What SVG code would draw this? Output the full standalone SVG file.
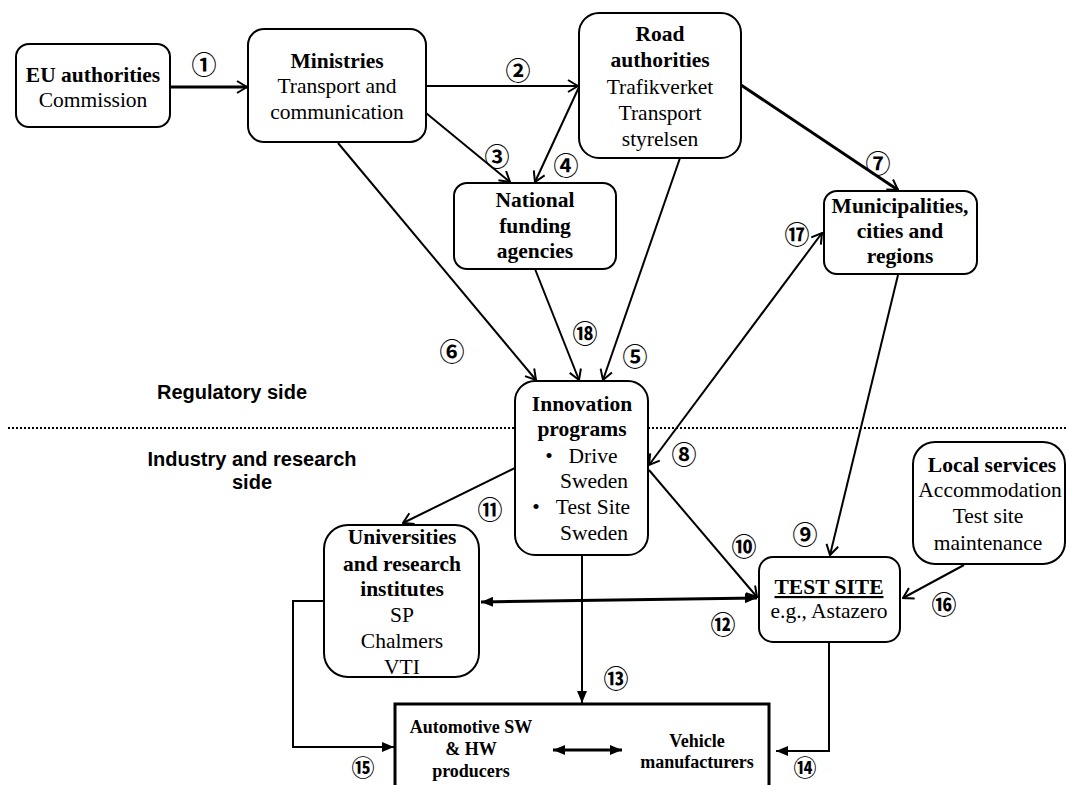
<svg xmlns="http://www.w3.org/2000/svg" width="1066" height="785" viewBox="0 0 1066 785">
<style>
.box{fill:#fff;stroke:#000;stroke-width:2}
.t{font-family:"Liberation Serif","Times New Roman",serif;font-size:21.5px;text-anchor:middle;fill:#000}
.b{font-weight:bold}
.s{font-family:"Liberation Serif","Times New Roman",serif;font-size:18px;font-weight:bold;text-anchor:middle;fill:#000}
.side{font-family:"Liberation Sans",Arial,sans-serif;font-size:20px;font-weight:bold;text-anchor:middle;fill:#000}
.num{font-family:"Noto Sans CJK JP","DejaVu Sans",sans-serif;font-size:25px;font-weight:bold;text-anchor:middle;dominant-baseline:central;fill:#000}
.low{font-size:23px}
.c{fill:none;stroke:#000;stroke-width:2}
.thick{stroke-width:3}
.o{marker-end:url(#open)}
.f{marker-end:url(#fill)}
</style>
<defs>
<marker id="open" viewBox="0 0 12 14" refX="11" refY="7" markerWidth="12" markerHeight="14" markerUnits="userSpaceOnUse" orient="auto-start-reverse">
<path d="M1,1 L11,7 L1,13" fill="none" stroke="#000" stroke-width="2"/>
</marker>
<marker id="fill" viewBox="0 0 12 10" refX="12" refY="5" markerWidth="12" markerHeight="10" markerUnits="userSpaceOnUse" orient="auto-start-reverse">
<path d="M0,0 L12,5 L0,10 z" fill="#000"/>
</marker>
</defs>

<line x1="8" y1="428" x2="1066" y2="428" stroke="#000" stroke-width="2" stroke-dasharray="2,2"/>
<text class="side" x="232" y="399">Regulatory side</text>
<text class="side" x="252" y="466">Industry and research</text>
<text class="side" x="252" y="489">side</text>

<g id="connectors">
<line class="c thick o" x1="170" y1="87" x2="247" y2="87"/>
<line class="c o" x1="426" y1="86" x2="578" y2="86"/>
<line class="c o" x1="426" y1="113" x2="510" y2="182"/>
<line class="c o" x1="579" y1="87" x2="535" y2="182"/>
<line class="c o" x1="680" y1="158" x2="603" y2="380"/>
<line class="c o" x1="338" y1="143" x2="536" y2="380"/>
<line class="c thick o" x1="741" y1="85" x2="898" y2="190"/>
<line class="c o" x1="822" y1="233" x2="649" y2="465" marker-start="url(#open)"/>
<line class="c o" x1="898" y1="275" x2="830" y2="555"/>
<line class="c o" x1="649" y1="470" x2="757" y2="597"/>
<line class="c o" x1="515" y1="468" x2="403" y2="523"/>
<line class="c thick f" x1="481" y1="602" x2="757" y2="598" marker-start="url(#fill)"/>
<line class="c f" x1="582" y1="555" x2="582" y2="703"/>
<polyline class="c f" points="829,642 829,751 776,751"/>
<polyline class="c f" points="324,601 293,601 293,747 394,747"/>
<line class="c o" x1="964" y1="565" x2="903" y2="598"/>
<line class="c o" x1="535" y1="269" x2="579" y2="380"/>
</g>

<g id="labels">
<text class="num" x="204" y="63">①</text>
<text class="num" x="518" y="69">②</text>
<text class="num" x="497" y="155">③</text>
<text class="num" x="566" y="164">④</text>
<text class="num" x="635" y="355">⑤</text>
<text class="num" x="452" y="350">⑥</text>
<text class="num" x="878" y="162">⑦</text>
<text class="num" x="684" y="453">⑧</text>
<text class="num" x="805" y="533">⑨</text>
<text class="num" x="744" y="545">⑩</text>
<text class="num" x="490" y="508">⑪</text>
<text class="num" x="723" y="623">⑫</text>
<text class="num" x="616" y="677">⑬</text>
<text class="num low" x="805" y="766">⑭</text>
<text class="num low" x="363" y="766">⑮</text>
<text class="num" x="944" y="603">⑯</text>
<text class="num" x="797" y="233">⑰</text>
<text class="num" x="585" y="332">⑱</text>
</g>

<g id="eu">
<rect class="box" x="16" y="44" width="154" height="83" rx="13"/>
<text class="t b" x="93" y="82">EU authorities</text>
<text class="t" x="93" y="107">Commission</text>
</g>
<g id="ministries">
<rect class="box" x="248" y="29" width="178" height="113" rx="16"/>
<text class="t b" x="337" y="68">Ministries</text>
<text class="t" x="337" y="93">Transport and</text>
<text class="t" x="337" y="119">communication</text>
</g>
<g id="road">
<rect class="box" x="579" y="13" width="162" height="145" rx="20"/>
<text class="t b" x="660" y="41">Road</text>
<text class="t b" x="660" y="67">authorities</text>
<text class="t" x="660" y="94">Trafikverket</text>
<text class="t" x="660" y="120">Transport</text>
<text class="t" x="660" y="146">styrelsen</text>
</g>
<g id="national">
<rect class="box" x="454" y="183" width="162" height="86" rx="13"/>
<text class="t b" x="535" y="207">National</text>
<text class="t b" x="535" y="233">funding</text>
<text class="t b" x="535" y="258">agencies</text>
</g>
<g id="municipalities">
<rect class="box" x="824" y="191" width="153" height="83" rx="13"/>
<text class="t b" x="900" y="213">Municipalities,</text>
<text class="t b" x="900" y="238">cities and</text>
<text class="t b" x="900" y="263">regions</text>
</g>
<g id="innovation">
<rect class="box" x="515" y="381" width="133" height="174" rx="20"/>
<text class="t b" x="582" y="411">Innovation</text>
<text class="t b" x="582" y="436">programs</text>
<text class="t" x="549" y="463">•</text>
<text class="t" x="593" y="463">Drive</text>
<text class="t" x="594" y="488">Sweden</text>
<text class="t" x="536" y="514">•</text>
<text class="t" x="593" y="514">Test Site</text>
<text class="t" x="594" y="540">Sweden</text>
</g>
<g id="universities">
<rect class="box" x="324" y="525" width="155" height="152" rx="24"/>
<text class="t b" x="402" y="544">Universities</text>
<text class="t b" x="402" y="571">and research</text>
<text class="t b" x="402" y="596">institutes</text>
<text class="t" x="402" y="622">SP</text>
<text class="t" x="402" y="648">Chalmers</text>
<text class="t" x="402" y="674">VTI</text>
</g>
<g id="testsite">
<rect class="box" x="759" y="557" width="141" height="85" rx="14"/>
<text class="t b" x="829" y="594" text-decoration="underline">TEST SITE</text>
<text class="t" x="829" y="618">e.g., Astazero</text>
</g>
<g id="local">
<rect class="box" x="913" y="442" width="152" height="122" rx="22"/>
<text class="t b" x="992" y="472">Local services</text>
<text class="t" x="990" y="497">Accommodation</text>
<text class="t" x="988" y="523">Test site</text>
<text class="t" x="988" y="550">maintenance</text>
</g>
<g id="industry">
<rect x="395" y="704" width="374" height="100" fill="#fff" stroke="#000" stroke-width="3"/>
<text class="s" x="471" y="733">Automotive SW</text>
<text class="s" x="471" y="755">&amp; HW</text>
<text class="s" x="471" y="777">producers</text>
<text class="s" x="697" y="747">Vehicle</text>
<text class="s" x="697" y="768">manufacturers</text>
<line class="c thick f" x1="553" y1="750" x2="622" y2="750" marker-start="url(#fill)"/>
</g>
</svg>
